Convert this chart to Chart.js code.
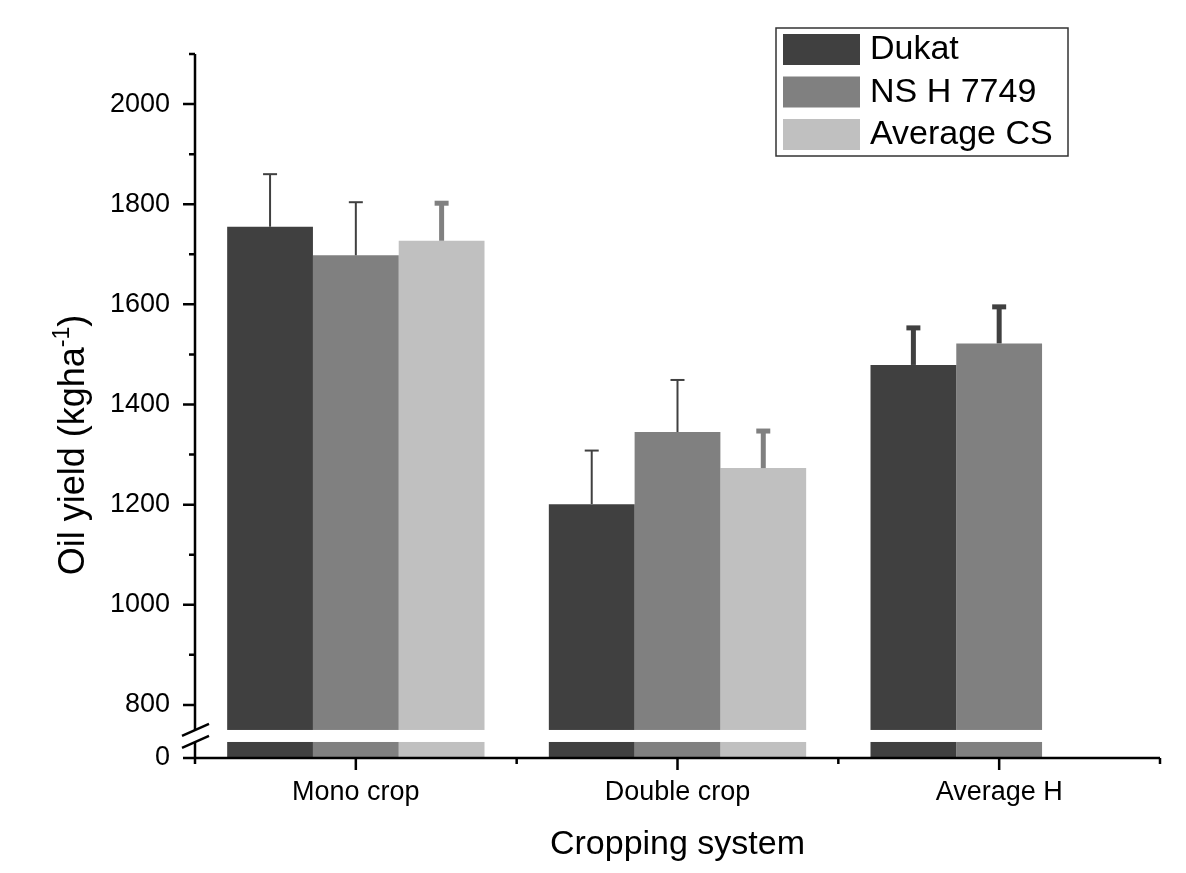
<!DOCTYPE html>
<html>
<head>
<meta charset="utf-8">
<script src="https://cdn.jsdelivr.net/npm/chart.js@4.4.0/dist/chart.umd.min.js"></script>
<style>
  html, body { margin: 0; padding: 0; background: #fff; }
</style>
</head>
<body>
<canvas id="chart" width="1186" height="873"></canvas>
<script>
const categories = ['Mono crop', 'Double crop', 'Average H'];
const seriesNames = ['Dukat', 'NS H 7749', 'Average CS'];
const seriesColors = ['#404040', '#808080', '#c0c0c0'];

const dukat = [1755, 1201, 1479];
const nsh7749 = [1698, 1345, 1522];
const averageCS = [1727, 1273, null];

const dukatErr = [105, 107, 74];
const nsh7749Err = [106, 104, 73];
const averageCSErr = [75, 74, null];

const yMajorTicks = [0, 800, 1000, 1200, 1400, 1600, 1800, 2000];
const yMinorTicks = [900, 1100, 1300, 1500, 1700, 1900, 2100];

// broken axis: 0 sits at the bottom, the upper part starts just under 800
const OFFSET = 694;
const toAxis = v => (v == null ? null : (v <= 0 ? 0 : v - OFFSET));
const fromAxis = d => (d === 0 ? 0 : d + OFFSET);
const BREAK_HI = 56, BREAK_LO = 32;

const FONT = 'Liberation Sans, Arial, sans-serif';
Chart.defaults.font.family = FONT;
Chart.defaults.color = '#000';

const decor = {
  id: 'decor',
  afterDatasetsDraw(chart) {
    const ctx = chart.ctx;
    const x = chart.scales.x, y = chart.scales.y;
    const area = chart.chartArea;
    const yHi = y.getPixelForValue(BREAK_HI), yLo = y.getPixelForValue(BREAK_LO);

    ctx.save();
    // white band of the axis break
    ctx.fillStyle = '#fff';
    ctx.fillRect(area.left + 2, yHi, area.right - area.left, yLo - yHi);

    // error bars (upper only)
    chart.data.datasets.forEach((ds, i) => {
      const meta = chart.getDatasetMeta(i);
      meta.data.forEach((bar, j) => {
        const v = ds.raw[j], e = ds.err[j];
        if (v == null || e == null) return;
        const top = y.getPixelForValue(toAxis(v + e));
        ctx.strokeStyle = ds.errColor;
        ctx.lineWidth = ds.errWidth[j];
        ctx.beginPath();
        ctx.moveTo(bar.x, bar.y);
        ctx.lineTo(bar.x, top);
        ctx.stroke();
        ctx.beginPath();
        ctx.moveTo(bar.x - 7, top);
        ctx.lineTo(bar.x + 7, top);
        ctx.stroke();
      });
    });

    // axes
    ctx.strokeStyle = '#000';
    ctx.lineWidth = 2.5;
    ctx.beginPath();
    ctx.moveTo(area.left, area.top);
    ctx.lineTo(area.left, yHi);
    ctx.moveTo(area.left, yLo);
    ctx.lineTo(area.left, area.bottom);
    ctx.moveTo(area.left, area.bottom);
    ctx.lineTo(area.right, area.bottom);
    ctx.stroke();

    // break marks
    ctx.beginPath();
    [yHi, yLo].forEach(py => {
      ctx.moveTo(area.left - 13, py + 6);
      ctx.lineTo(area.left + 14, py - 6);
    });
    ctx.stroke();

    // y ticks
    ctx.beginPath();
    yMajorTicks.forEach(v => {
      const py = y.getPixelForValue(toAxis(v));
      ctx.moveTo(area.left - 12, py);
      ctx.lineTo(area.left, py);
    });
    yMinorTicks.forEach(v => {
      const py = y.getPixelForValue(toAxis(v));
      ctx.moveTo(area.left - 6, py);
      ctx.lineTo(area.left, py);
    });
    // x ticks
    categories.forEach((c, i) => {
      const px = x.getPixelForValue(i);
      ctx.moveTo(px, area.bottom);
      ctx.lineTo(px, area.bottom + 12);
    });
    for (let i = 0; i <= categories.length; i++) {
      const px = x.getPixelForValue(i - 0.5);
      ctx.moveTo(px, area.bottom);
      ctx.lineTo(px, area.bottom + 6);
    }
    ctx.stroke();

    // legend
    ctx.lineWidth = 1.5;
    ctx.strokeStyle = '#333';
    ctx.strokeRect(776, 28, 292, 128);
    ctx.font = '34px ' + FONT;
    ctx.textBaseline = 'middle';
    ctx.textAlign = 'left';
    chart.data.datasets.forEach((ds, i) => {
      const top = 34 + i * 42.5;
      ctx.fillStyle = ds.backgroundColor;
      ctx.fillRect(783, top, 77, 31);
      ctx.fillStyle = '#000';
      ctx.fillText(ds.label, 870, top + 16);
    });

    // y title with superscript
    const main = 'Oil yield (kgha', sup = '-1', close = ')';
    ctx.font = '36px ' + FONT;
    const w1 = ctx.measureText(main).width, w3 = ctx.measureText(close).width;
    ctx.font = '23px ' + FONT;
    const w2 = ctx.measureText(sup).width;
    const total = w1 + w2 + w3;
    ctx.translate(84, 445);
    ctx.rotate(-Math.PI / 2);
    ctx.textBaseline = 'alphabetic';
    ctx.fillStyle = '#000';
    let cx = -total / 2;
    ctx.font = '36px ' + FONT;
    ctx.fillText(main, cx, 0);
    cx += w1;
    ctx.font = '23px ' + FONT;
    ctx.fillText(sup, cx, -15);
    cx += w2;
    ctx.font = '36px ' + FONT;
    ctx.fillText(close, cx, 0);
    ctx.restore();
  }
};

const rawSeries = [dukat, nsh7749, averageCS];
const errSeries = [dukatErr, nsh7749Err, averageCSErr];
const errColors = ['#404040', '#404040', '#808080'];
const errWidths = [[2, 2, 5], [2, 2, 5], [5, 5, 5]];

new Chart(document.getElementById('chart'), {
  type: 'bar',
  data: {
    labels: categories,
    datasets: seriesNames.map((name, i) => ({
      label: name,
      data: rawSeries[i].map(toAxis),
      raw: rawSeries[i],
      err: errSeries[i],
      errColor: errColors[i],
      errWidth: errWidths[i],
      backgroundColor: seriesColors[i],
      borderWidth: 0,
      categoryPercentage: 0.8,
      barPercentage: 1.0
    }))
  },
  options: {
    responsive: false,
    animation: false,
    devicePixelRatio: 1,
    layout: { padding: { top: 54, right: 26, left: 0, bottom: 0 } },
    plugins: { legend: { display: false }, tooltip: { enabled: false } },
    scales: {
      x: {
        offset: true,
        grid: { display: false, drawTicks: false },
        border: { display: false },
        ticks: { font: { size: 27 }, color: '#000', padding: 18, maxRotation: 0 },
        title: { display: true, text: 'Cropping system', font: { size: 34 }, color: '#000', padding: { top: 0, bottom: 8 } },
        afterFit: s => { s.height = 115; }
      },
      y: {
        min: 0,
        max: toAxis(2100),
        grid: { display: false, drawTicks: false },
        border: { display: false },
        afterBuildTicks: s => { s.ticks = yMajorTicks.map(v => ({ value: toAxis(v) })); },
        ticks: { font: { size: 27 }, color: '#000', padding: 25, autoSkip: false, callback: v => String(fromAxis(v)) },
        afterFit: s => { s.width = 195; }
      }
    }
  },
  plugins: [decor]
});
</script>
</body>
</html>
